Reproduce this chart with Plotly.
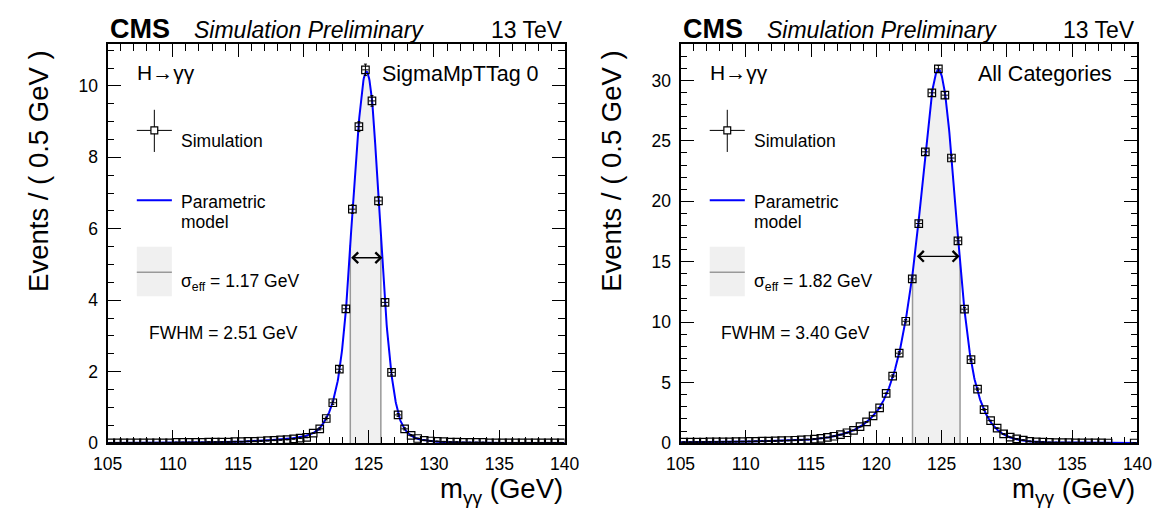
import numpy as np
import plotly.graph_objects as go

W, H = 1171, 510
FONT = "Liberation Sans, Arial, Helvetica, sans-serif"

# ---------------- data ----------------
# bin centres of the 0.5 GeV bins from 105 to 140 GeV
mass_centers = np.arange(105.25, 140.0, 0.5)

left_events = [
    0.01, 0.01, 0.01, 0.01, 0.01, 0.01, 0.01, 0.01, 0.01, 0.01,
    0.02, 0.02, 0.02, 0.02, 0.02, 0.03, 0.03, 0.03, 0.03, 0.04,
    0.04, 0.05, 0.05, 0.06, 0.07, 0.08, 0.09, 0.10, 0.12, 0.14,
    0.16, 0.28, 0.40, 0.69, 1.13, 2.07, 3.76, 6.55, 8.86, 10.45,
    9.58, 6.78, 3.94, 1.98, 0.79, 0.40, 0.22, 0.13, 0.08, 0.06,
    0.05, 0.04, 0.03, 0.03, 0.02, 0.02, 0.02, 0.02, 0.01, 0.01,
    0.01, 0.01, 0.01, 0.01, 0.01, 0.01, 0.01, 0.01, 0.01, 0.01,
]
left_errors = [
    0.01, 0.01, 0.01, 0.01, 0.01, 0.01, 0.01, 0.01, 0.01, 0.01,
    0.01, 0.01, 0.01, 0.01, 0.01, 0.01, 0.01, 0.01, 0.01, 0.01,
    0.01, 0.01, 0.01, 0.01, 0.01, 0.01, 0.01, 0.01, 0.01, 0.01,
    0.01, 0.01, 0.03, 0.04, 0.05, 0.07, 0.09, 0.12, 0.14, 0.16,
    0.15, 0.12, 0.09, 0.07, 0.04, 0.03, 0.02, 0.01, 0.01, 0.01,
    0.01, 0.01, 0.01, 0.01, 0.01, 0.01, 0.01, 0.01, 0.01, 0.01,
    0.01, 0.01, 0.01, 0.01, 0.01, 0.01, 0.01, 0.01, 0.01, 0.01,
]
right_events = [
    0.08, 0.08, 0.09, 0.09, 0.10, 0.10, 0.11, 0.11, 0.12, 0.13,
    0.14, 0.15, 0.16, 0.17, 0.18, 0.20, 0.22, 0.24, 0.27, 0.30,
    0.34, 0.40, 0.47, 0.57, 0.70, 0.86, 1.06, 1.36, 1.76, 2.26,
    2.91, 4.12, 5.55, 7.44, 10.08, 13.58, 18.16, 24.09, 28.97, 30.96,
    28.78, 23.58, 16.73, 11.08, 6.90, 4.47, 2.78, 1.86, 1.24, 0.76,
    0.49, 0.35, 0.25, 0.15, 0.10, 0.08, 0.06, 0.05, 0.04, 0.04,
    0.03, 0.03, 0.02, 0.02, 0.02, 0.01, None, None, None, 0.01,
]
right_errors = [
    0.03, 0.03, 0.03, 0.03, 0.03, 0.03, 0.03, 0.03, 0.03, 0.03,
    0.03, 0.03, 0.03, 0.03, 0.03, 0.03, 0.03, 0.03, 0.03, 0.03,
    0.03, 0.03, 0.03, 0.03, 0.03, 0.03, 0.03, 0.03, 0.03, 0.03,
    0.03, 0.03, 0.10, 0.12, 0.14, 0.17, 0.20, 0.23, 0.26, 0.27,
    0.26, 0.23, 0.19, 0.15, 0.12, 0.09, 0.07, 0.03, 0.03, 0.03,
    0.03, 0.03, 0.03, 0.03, 0.03, 0.03, 0.03, 0.03, 0.03, 0.03,
    0.03, 0.03, 0.03, 0.03, 0.03, 0.03, 0.0, 0.0, 0.0, 0.03,
]

# parametric model, read at the frame edges and at every bin centre
model_mass = np.concatenate([[105.0], mass_centers, [140.0]])
left_model = [
    0.005,
    0.005, 0.006, 0.006, 0.007, 0.007, 0.008, 0.009, 0.010, 0.011, 0.012,
    0.013, 0.015, 0.016, 0.018, 0.020, 0.023, 0.026, 0.029, 0.033, 0.038,
    0.044, 0.051, 0.06, 0.07, 0.08, 0.09, 0.10, 0.12, 0.14, 0.17,
    0.21, 0.28, 0.42, 0.70, 1.15, 2.02, 3.70, 6.45, 9.00, 10.38,
    9.62, 6.85, 3.90, 1.92, 0.85, 0.40, 0.21, 0.12, 0.08, 0.055,
    0.04, 0.03, 0.025, 0.02, 0.017, 0.015, 0.013, 0.011, 0.010, 0.009,
    0.008, 0.007, 0.007, 0.006, 0.006, 0.005, 0.005, 0.005, 0.004, 0.004,
    0.004,
]
right_model = [
    0.07,
    0.07, 0.075, 0.08, 0.085, 0.09, 0.095, 0.10, 0.105, 0.11, 0.12,
    0.13, 0.14, 0.15, 0.16, 0.175, 0.19, 0.21, 0.23, 0.26, 0.29,
    0.33, 0.39, 0.46, 0.56, 0.69, 0.85, 1.06, 1.35, 1.74, 2.25,
    2.95, 4.00, 5.45, 7.45, 10.2, 13.8, 18.5, 24.0, 28.9, 30.9,
    29.0, 23.8, 17.0, 11.0, 6.8, 4.3, 2.75, 1.75, 1.12, 0.72,
    0.47, 0.31, 0.21, 0.15, 0.11, 0.085, 0.07, 0.06, 0.05, 0.045,
    0.04, 0.035, 0.03, 0.028, 0.025, 0.022, 0.02, 0.018, 0.016, 0.015,
    0.014,
]

left_sigma_eff = 1.17
left_sigma_window = (123.59, 125.93)
left_fwhm = 2.51
left_fwhm_window = (123.54, 126.05)
left_category = "SigmaMpTTag 0"

right_sigma_eff = 1.82
right_sigma_window = (122.77, 126.41)
right_fwhm = 3.40
right_fwhm_window = (122.98, 126.38)
right_category = "All Categories"

x_range = [105, 140]
left_y_range = [0, 11.17]
right_y_range = [0, 33.0]


# ---------------- helpers ----------------
def smooth(xs, ys, n=16):
    """Cubic Hermite curve through the read model values (for drawing)."""
    xs = np.asarray(xs, float)
    ys = np.asarray(ys, float)
    m = np.empty_like(ys)
    m[1:-1] = (ys[2:] - ys[:-2]) / (xs[2:] - xs[:-2])
    m[0] = (ys[1] - ys[0]) / (xs[1] - xs[0])
    m[-1] = (ys[-1] - ys[-2]) / (xs[-1] - xs[-2])
    ox, oy = [], []
    t = np.linspace(0, 1, n, endpoint=False)
    h00 = 2 * t**3 - 3 * t**2 + 1
    h10 = t**3 - 2 * t**2 + t
    h01 = -2 * t**3 + 3 * t**2
    h11 = t**3 - t**2
    for i in range(len(xs) - 1):
        h = xs[i + 1] - xs[i]
        ox.append(xs[i] + t * h)
        oy.append(h00 * ys[i] + h10 * h * m[i] + h01 * ys[i + 1] + h11 * h * m[i + 1])
    ox.append([xs[-1]])
    oy.append([ys[-1]])
    return np.concatenate(ox), np.clip(np.concatenate(oy), 0, None)


def px(x):
    return x / W


def py(y):
    return 1 - y / H


fig = go.Figure()
annotations = []
shapes = []

panels = [
    dict(xa="x", ya="y", events=left_events, errors=left_errors, model=left_model,
         sw=left_sigma_window, fw=left_fwhm_window, seff=left_sigma_eff,
         fwhm=left_fwhm, cat=left_category, dx=0),
    dict(xa="x2", ya="y2", events=right_events, errors=right_errors, model=right_model,
         sw=right_sigma_window, fw=right_fwhm_window, seff=right_sigma_eff,
         fwhm=right_fwhm, cat=right_category, dx=588),
]

for p in panels:
    cx, cy = smooth(model_mass, p["model"])
    lo, hi = p["sw"]
    mask = (cx > lo) & (cx < hi)
    ylo = float(np.interp(lo, cx, cy))
    yhi = float(np.interp(hi, cx, cy))
    fx = np.concatenate([[lo], cx[mask], [hi]])
    fy = np.concatenate([[ylo], cy[mask], [yhi]])
    # sigma_eff shaded band
    fig.add_trace(go.Scatter(x=fx, y=fy, mode="lines", fill="tozeroy",
                             fillcolor="#f0f0f0", line=dict(width=0),
                             xaxis=p["xa"], yaxis=p["ya"], hoverinfo="skip",
                             showlegend=False))
    fig.add_trace(go.Scatter(x=[lo, lo, None, hi, hi], y=[0, ylo, None, 0, yhi],
                             mode="lines", line=dict(color="#999999", width=1.5),
                             xaxis=p["xa"], yaxis=p["ya"], hoverinfo="skip",
                             showlegend=False))
    # parametric model
    fig.add_trace(go.Scatter(x=cx, y=cy, mode="lines",
                             line=dict(color="#0000ff", width=2),
                             xaxis=p["xa"], yaxis=p["ya"], showlegend=False))
    # simulation points
    fig.add_trace(go.Scatter(
        x=mass_centers, y=p["events"], mode="markers",
        marker=dict(symbol="square-open", size=7.5, color="black",
                    line=dict(width=1.2, color="black")),
        error_y=dict(type="data", array=p["errors"], visible=True,
                     color="black", thickness=1, width=1.5),
        error_x=dict(type="constant", value=0.25, visible=True,
                     color="black", thickness=1, width=0),
        xaxis=p["xa"], yaxis=p["ya"], showlegend=False))
    # FWHM arrow
    half = max(p["model"]) / 2
    f0, f1 = p["fw"]
    annotations.append(dict(x=f1, y=half, ax=f0, ay=half, xref=p["xa"], yref=p["ya"],
                            axref=p["xa"], ayref=p["ya"], text="", showarrow=True,
                            arrowhead=4, startarrowhead=4, arrowside="end+start",
                            arrowsize=1.6, startarrowsize=1.6,
                            arrowwidth=1.3, arrowcolor="black"))

    d = p["dx"]
    fl = 95 + d       # frame left
    fr = 564 + d      # frame right

    def txt(x, y, text, size, xanchor="left", **kw):
        a = dict(x=px(x), y=py(y), xref="paper", yref="paper", text=text,
                 showarrow=False, xanchor=xanchor, yanchor="middle",
                 font=dict(family=FONT, size=size, color="black"))
        a.update(kw)
        annotations.append(a)

    txt(fl, 30, "<b>CMS</b>", 27)
    txt(182 + d, 30.5, "<i>Simulation Preliminary</i>", 23)
    txt(fr, 30.5, "13 TeV", 23, xanchor="right")
    txt(123 + d, 74, "H\u2192\u03b3\u03b3", 21)
    txt(fr - 24, 75, p["cat"], 21.5, xanchor="right")
    txt(168 + d, 144, "Simulation", 17.5)
    txt(168 + d, 206, "Parametric", 17.5)
    txt(168 + d, 226, "model", 17.5)
    txt(168 + d, 288, "\u03c3<sub>eff</sub> = %.2f GeV" % p["seff"], 17.5)
    txt(135 + d, 340, "FWHM = %.2f GeV" % p["fwhm"], 17.5)
    txt(24 + d, 50, "Events / ( 0.5 GeV )", 27.5,
        xanchor="center", yanchor="top", textangle=-90)
    txt(fr, 500, "m<sub>\u03b3\u03b3</sub> (GeV)", 27.5, xanchor="right")

    # in-frame legend symbols
    line = dict(color="black", width=1)
    shapes.append(dict(type="line", xref="paper", yref="paper",
                       x0=px(143 + d), x1=px(143 + d), y0=py(112), y1=py(155), line=line))
    shapes.append(dict(type="line", xref="paper", yref="paper",
                       x0=px(125 + d), x1=px(161 + d), y0=py(133), y1=py(133), line=line))
    shapes.append(dict(type="rect", xref="paper", yref="paper",
                       x0=px(139.5 + d), x1=px(146.5 + d), y0=py(129.5), y1=py(136.5),
                       line=dict(color="black", width=1.2), fillcolor="white"))
    shapes.append(dict(type="line", xref="paper", yref="paper",
                       x0=px(125 + d), x1=px(161 + d), y0=py(204.3), y1=py(204.3),
                       line=dict(color="#0000ff", width=2)))
    shapes.append(dict(type="rect", xref="paper", yref="paper",
                       x0=px(125 + d), x1=px(161 + d), y0=py(251.7), y1=py(302.3),
                       line=dict(width=0), fillcolor="#f0f0f0"))
    shapes.append(dict(type="line", xref="paper", yref="paper",
                       x0=px(125 + d), x1=px(161 + d), y0=py(277.7), y1=py(277.7),
                       line=dict(color="#999999", width=1.5)))

axis_common = dict(
    showgrid=False, zeroline=False, showline=True, linecolor="black", linewidth=2,
    mirror="allticks", ticks="inside", ticklen=13, tickwidth=1.3, tickcolor="black",
    tickfont=dict(family=FONT, size=17.5, color="black"),
)
xminor = dict(dtick=1, ticklen=6.5, tickwidth=1.3, ticks="inside", tickcolor="black")

fig.update_layout(
    width=W, height=H, margin=dict(l=0, r=0, t=0, b=0),
    paper_bgcolor="white", plot_bgcolor="white", showlegend=False,
    xaxis=dict(domain=[px(95), px(564)], range=x_range, tick0=105, dtick=5,
               anchor="y", minor=xminor, ticklabelstandoff=4, **axis_common),
    yaxis=dict(domain=[py(452), py(45)], range=left_y_range, tick0=0, dtick=2,
               anchor="x", minor=dict(dtick=0.5, ticklen=6.5, tickwidth=1.3,
                                      ticks="inside", tickcolor="black"),
               ticklabelstandoff=4, **axis_common),
    xaxis2=dict(domain=[px(683), px(1152)], range=x_range, tick0=105, dtick=5,
                anchor="y2", minor=xminor, ticklabelstandoff=4, **axis_common),
    yaxis2=dict(domain=[py(452), py(45)], range=right_y_range, tick0=0, dtick=5,
                anchor="x2", minor=dict(dtick=1, ticklen=6.5, tickwidth=1.3,
                                        ticks="inside", tickcolor="black"),
                ticklabelstandoff=4, **axis_common),
    annotations=annotations,
    shapes=shapes,
)

fig.write_html("out.html")
